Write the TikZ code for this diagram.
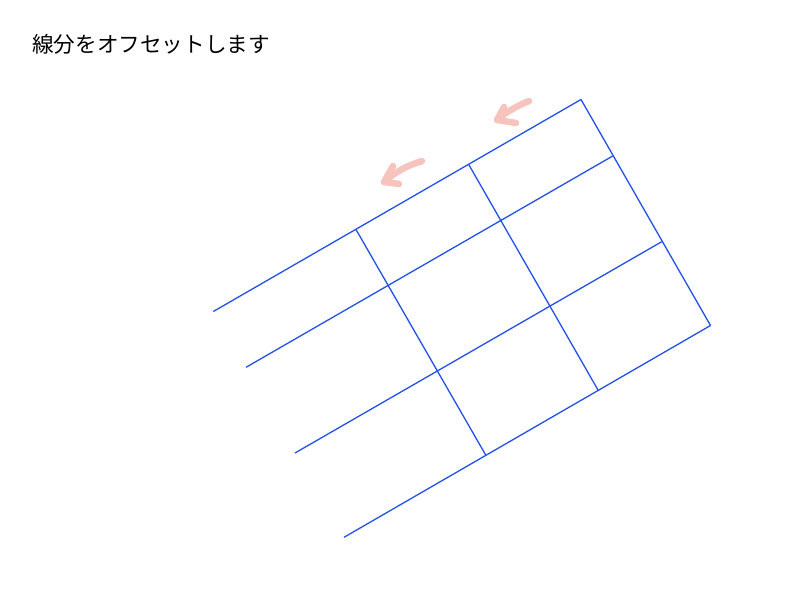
\documentclass[tikz,border=0pt]{standalone}
\usepackage{fontspec}
\newfontfamily\jpfont{Noto Sans CJK JP}
\definecolor{gridblue}{RGB}{35,80,232}
\definecolor{pinkarrow}{RGB}{246,196,188}
\begin{document}
\begin{tikzpicture}[x=1pt,y=-1pt,
  gridline/.style={draw=gridblue,line width=1.3pt},
  hint/.style={draw=pinkarrow,line width=6.5pt,line cap=round,line join=round}]
\useasboundingbox (0,0) rectangle (800,600);
% title
\node[anchor=base west,inner sep=0pt,font=\jpfont\fontsize{21.6}{25}\selectfont] (title) at (32,52.5) {線分をオフセットします};
% grid corner / end points
\coordinate (a1) at (213.3,311.5);
\coordinate (a2) at (581,99.5);
\coordinate (b1) at (246,367.3);
\coordinate (b2) at (612.7,156);
\coordinate (c1) at (295,453);
\coordinate (c2) at (661.7,241.7);
\coordinate (d1) at (344,537.3);
\coordinate (d2) at (710.5,325.5);
\coordinate (p1) at (355.7,229);
\coordinate (p2) at (485.7,455);
\coordinate (q1) at (468.7,164.5);
\coordinate (q2) at (598.3,390.5);
% lines
\draw[gridline] (a1) -- (a2);
\draw[gridline] (b1) -- (b2);
\draw[gridline] (c1) -- (c2);
\draw[gridline] (d1) -- (d2);
\draw[gridline] (a2) -- (d2);
\draw[gridline] (p1) -- (p2);
\draw[gridline] (q1) -- (q2);
% arrows
\coordinate (s1) at (529,101);
\coordinate (t1) at (497,120);
\coordinate (u1) at (504,107);
\coordinate (v1) at (516,123);
\draw[hint] (s1) .. controls (517,106) and (506,112) .. (t1);
\draw[hint] (u1) -- (t1) -- (v1);
\coordinate (s2) at (422,161);
\coordinate (t2) at (384,182);
\coordinate (u2) at (393,166);
\coordinate (v2) at (399,184);
\draw[hint] (s2) .. controls (409,165) and (396,171) .. (t2);
\draw[hint] (u2) -- (t2) -- (v2);
\end{tikzpicture}
\end{document}
